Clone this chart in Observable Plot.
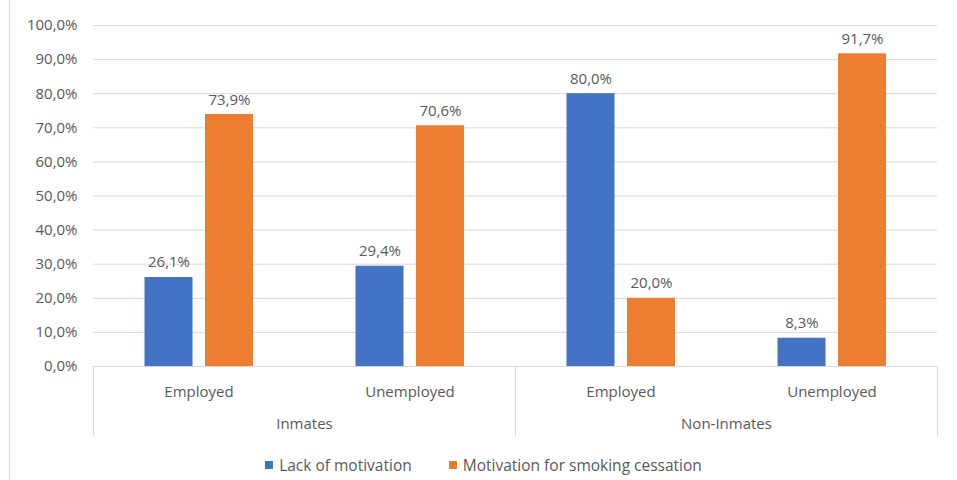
<!DOCTYPE html>
<html>
<head>
<meta charset="utf-8">
<script src="https://cdn.jsdelivr.net/npm/d3@7"></script>
<script src="https://cdn.jsdelivr.net/npm/@observablehq/plot@0.6"></script>
<style>
  html, body { margin: 0; padding: 0; background: #fff; }
  body { width: 957px; height: 480px; position: relative; overflow: hidden; font-family: "Open Sans", sans-serif; }
  #border { position: absolute; left: 9px; top: 0; width: 1px; height: 480px; background: #d9d9d9; }
  #legend { position: absolute; top: 454px; left: 0; width: 967px; display: flex; justify-content: center; gap: 37px; font-size: 15.5px; color: #595959; }
  #legend span.item { display: inline-flex; align-items: center; white-space: nowrap; }
  #legend span.sw { display: inline-block; width: 8px; height: 8px; margin-right: 6px; }
</style>
</head>
<body>
<div id="border"></div>
<div id="chart"></div>
<div id="legend"></div>
<script>
const groups = ["Inmates", "Inmates", "Non-Inmates", "Non-Inmates"];
const statuses = ["Employed", "Unemployed", "Employed", "Unemployed"];
const lackOfMotivation = [26.1, 29.4, 80.0, 8.3];
const motivationForCessation = [73.9, 70.6, 20.0, 91.7];
const seriesNames = ["Lack of motivation", "Motivation for smoking cessation"];
const seriesColors = ["#4472C4", "#ED7D31"];
const groupNames = ["Inmates", "Non-Inmates"];
const statusNames = ["Employed", "Unemployed"];
const yTicks = [0, 10, 20, 30, 40, 50, 60, 70, 80, 90, 100];

const fmt = v => v.toFixed(1).replace(".", ",") + "%";

const rows = [];
groups.forEach((g, i) => {
  rows.push({group: g, status: statuses[i], series: seriesNames[0], value: lackOfMotivation[i]});
  rows.push({group: g, status: statuses[i], series: seriesNames[1], value: motivationForCessation[i]});
});
const s0 = rows.filter(d => d.series === seriesNames[0]);
const s1 = rows.filter(d => d.series === seriesNames[1]);

const textColor = "#595959";
const gridColor = "#d9d9d9";
const dodge = 30.5;
const inset = 81.5;
const fs = 15;

const chart = Plot.plot({
  width: 957,
  height: 445,
  marginLeft: 93,
  marginRight: 20,
  marginTop: 25,
  marginBottom: 79,
  style: {fontFamily: "'Open Sans', sans-serif", fontSize: fs + "px", color: textColor, background: "transparent"},
  fx: {domain: groupNames, padding: 0, axis: null, label: null},
  x: {domain: statusNames, padding: 0, label: null, axis: null},
  y: {domain: [0, 100], label: null, axis: null},
  color: {domain: seriesNames, range: seriesColors},
  marks: [
    Plot.gridY(yTicks, {stroke: gridColor, strokeOpacity: 1}),
    Plot.axisY(yTicks, {tickSize: 0, tickPadding: 16, tickFormat: fmt, fill: textColor, fontSize: fs, label: null}),
    Plot.barY(s0, {fx: "group", x: "status", y: "value", fill: "series", insetLeft: inset, insetRight: inset, dx: -dodge + 0.5}),
    Plot.barY(s1, {fx: "group", x: "status", y: "value", fill: "series", insetLeft: inset, insetRight: inset, dx: dodge}),
    Plot.text(s0, {fx: "group", x: "status", y: "value", text: d => fmt(d.value), dx: -dodge + 0.5, dy: -10, lineAnchor: "bottom", fill: textColor, fontSize: fs}),
    Plot.text(s1, {fx: "group", x: "status", y: "value", text: d => fmt(d.value), dx: dodge, dy: -10, lineAnchor: "bottom", fill: textColor, fontSize: fs}),
    Plot.ruleY([0], {stroke: gridColor}),
    Plot.axisX({tickSize: 0, tickPadding: 20, fill: textColor, fontSize: fs, label: null}),
    Plot.text(groupNames, {fx: d => d, text: d => d, frameAnchor: "bottom", dy: 62, fill: textColor, fontSize: fs}),
    Plot.frame({anchor: "left", stroke: gridColor, insetTop: 341, insetBottom: -69}),
    Plot.frame({anchor: "right", stroke: gridColor, insetTop: 341, insetBottom: -69})
  ]
});
document.getElementById("chart").appendChild(chart);

const legend = document.getElementById("legend");
seriesNames.forEach((name, i) => {
  const item = document.createElement("span");
  item.className = "item";
  const sw = document.createElement("span");
  sw.className = "sw";
  sw.style.background = seriesColors[i];
  item.appendChild(sw);
  item.appendChild(document.createTextNode(name));
  legend.appendChild(item);
});
</script>
</body>
</html>
